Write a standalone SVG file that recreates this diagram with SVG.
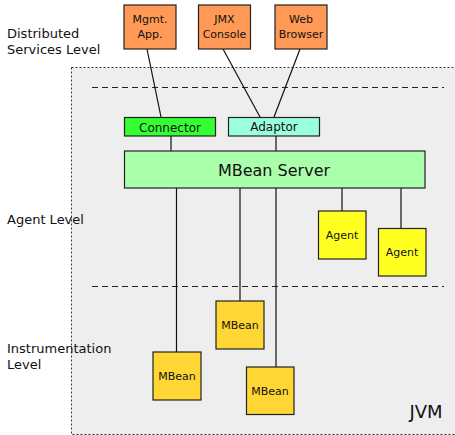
<svg xmlns="http://www.w3.org/2000/svg" width="455" height="435" viewBox="0 0 455 435">
<style>
text{font-family:"DejaVu Sans",sans-serif;fill:#111}
.lbl{font-size:13px}
.box{stroke:#222;stroke-width:1.2}
.t{font-size:11px;text-anchor:middle}
.c{stroke:#111;stroke-width:1.2;fill:none}
.d{stroke:#222;stroke-width:1.2;stroke-dasharray:6,4}
</style>
<rect x="71.5" y="67.5" width="390" height="367" fill="#eeeeee" stroke="#333" stroke-width="1" stroke-dasharray="2,2"/>
<line class="d" x1="92" y1="87.5" x2="444" y2="87.5"/>
<line class="d" x1="92" y1="286.5" x2="444" y2="286.5"/>
<text class="lbl" x="7" y="38">Distributed</text>
<text class="lbl" x="7" y="54">Services Level</text>
<text class="lbl" x="7" y="224">Agent Level</text>
<text class="lbl" x="7" y="353">Instrumentation</text>
<text class="lbl" x="7" y="369">Level</text>
<text x="426" y="418" font-size="18" text-anchor="middle">JVM</text>
<g id="connectors">
<line class="c" x1="147" y1="49" x2="161" y2="117"/>
<line class="c" x1="223" y1="49" x2="260" y2="117"/>
<line class="c" x1="300" y1="49" x2="274" y2="117"/>
<line class="c" x1="171" y1="136" x2="171" y2="151"/>
<line class="c" x1="276" y1="136" x2="276" y2="151"/>
<line class="c" x1="176.5" y1="188" x2="176.5" y2="352"/>
<line class="c" x1="240" y1="188" x2="240" y2="301"/>
<line class="c" x1="276" y1="188" x2="276" y2="367"/>
<line class="c" x1="342" y1="188" x2="342" y2="211"/>
<line class="c" x1="401" y1="188" x2="401" y2="228"/>
</g>
<g id="mgmt"><rect class="box" x="124" y="5" width="52" height="44" fill="#ff9955"/><text class="t" x="150" y="23">Mgmt.</text><text class="t" x="150" y="38">App.</text></g>
<g id="jmx"><rect class="box" x="198.5" y="5" width="52" height="44" fill="#ff9955"/><text class="t" x="224.5" y="23">JMX</text><text class="t" x="224.5" y="38">Console</text></g>
<g id="web"><rect class="box" x="275" y="5" width="52" height="44" fill="#ff9955"/><text class="t" x="301" y="23">Web</text><text class="t" x="301" y="38">Browser</text></g>
<g id="connector"><rect class="box" x="124.5" y="117.5" width="91" height="18.5" fill="#33ff33"/><text x="170" y="131.5" font-size="12" text-anchor="middle">Connector</text></g>
<g id="adaptor"><rect class="box" x="228.5" y="117.5" width="91" height="18.5" fill="#99ffdd"/><text x="274" y="131" font-size="12" text-anchor="middle">Adaptor</text></g>
<g id="server"><rect class="box" x="124.5" y="151" width="300.5" height="37" fill="#aaffaa"/><text x="274" y="176" font-size="16" text-anchor="middle">MBean Server</text></g>
<g id="agent1"><rect class="box" x="318.5" y="211" width="47.5" height="48" fill="#ffff22"/><text class="t" x="342" y="238.5">Agent</text></g>
<g id="agent2"><rect class="box" x="378.5" y="228.5" width="47.5" height="47.5" fill="#ffff22"/><text class="t" x="402" y="256">Agent</text></g>
<g id="mbean1"><rect class="box" x="153" y="352" width="48" height="48" fill="#ffd633"/><text class="t" x="177" y="380">MBean</text></g>
<g id="mbean2"><rect class="box" x="216" y="301" width="48" height="48" fill="#ffd633"/><text class="t" x="240" y="329">MBean</text></g>
<g id="mbean3"><rect class="box" x="246.5" y="367" width="47.5" height="47.5" fill="#ffd633"/><text class="t" x="270" y="394.5">MBean</text></g>
</svg>
